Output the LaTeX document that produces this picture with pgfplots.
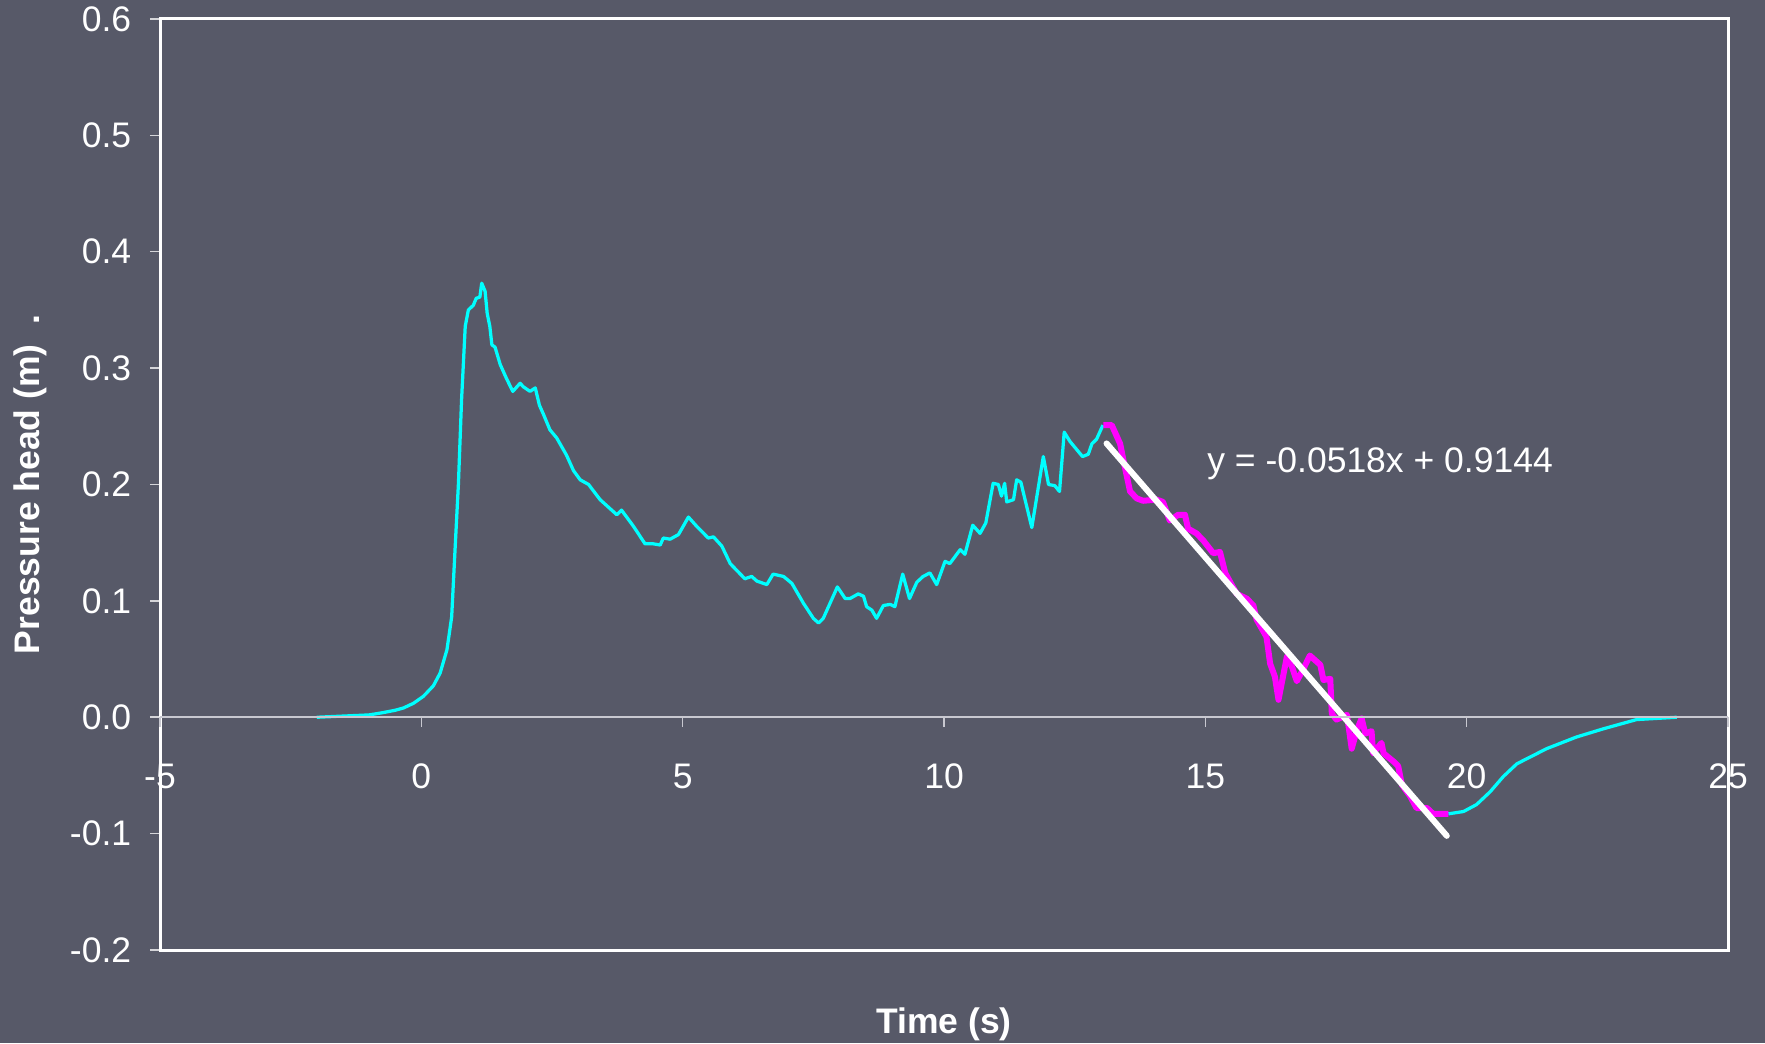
\documentclass[border=0pt]{standalone}
\usepackage{pgfplots}
\pgfplotsset{compat=1.18}
\usepackage{fontspec}
\setmainfont{Liberation Sans}
\definecolor{bg}{RGB}{87,89,104}
\definecolor{zline}{RGB}{200,200,208}
\definecolor{cy}{RGB}{0,255,255}
\definecolor{mg}{RGB}{255,0,255}
\newcommand{\fs}{\fontsize{14.2}{17}\selectfont}
\begin{document}
\begin{tikzpicture}
\useasboundingbox[fill=bg] (-64pt,-37.2pt) rectangle (642pt,380pt);
\begin{axis}[
  scale only axis, width=627.2pt, height=372.4pt,
  xmin=-5, xmax=25, ymin=-0.2, ymax=0.6,
  xtick=\empty,
  ytick={-0.2,-0.1,0,0.1,0.2,0.3,0.4,0.5,0.6},
  ytick pos=left,
  tick align=outside, major tick length=4pt,
  axis line style={white, line width=1.2pt},
  ytick style={white!75!bg, line width=0.6pt},
  yticklabel style={font=\fs, text=white, xshift=-4pt, /pgf/number format/.cd, fixed, fixed zerofill, precision=1, assume math mode=true},
  ylabel={Pressure head (m)\ \ .},
  xlabel={Time (s)},
  every axis y label/.style={at={(axis description cs:0,0.5)}, xshift=-52pt, rotate=90, anchor=center, font=\fs\bfseries, text=white},
  every axis x label/.style={at={(axis description cs:0.5,0)}, yshift=-29.8pt, anchor=center, font=\fs\bfseries, text=white},
  clip=false,
]
\addplot[cy, line width=1.3pt, line join=round] coordinates {
(-2.0,0.000) (-1.5,0.001) (-1.0,0.002) (-0.73,0.004) (-0.5,0.006) (-0.34,0.008) (-0.15,0.012) (0.04,0.018) (0.23,0.027) (0.36,0.038) (0.49,0.058) (0.58,0.086) (0.645,0.144) (0.71,0.201) (0.77,0.273) (0.84,0.336) (0.90,0.350) (0.995,0.354) (1.05,0.360) (1.12,0.361) (1.155,0.373) (1.22,0.366) (1.26,0.347) (1.31,0.336) (1.35,0.320) (1.41,0.318) (1.51,0.303) (1.63,0.291) (1.75,0.280) (1.89,0.287) (1.95,0.284) (2.08,0.280) (2.18,0.283) (2.26,0.268) (2.33,0.261) (2.46,0.247) (2.59,0.240) (2.78,0.225) (2.91,0.212) (3.04,0.204) (3.20,0.200) (3.42,0.187) (3.74,0.174) (3.83,0.178) (4.06,0.164) (4.28,0.149) (4.44,0.149) (4.57,0.148) (4.63,0.154) (4.76,0.153) (4.92,0.157) (5.11,0.172) (5.27,0.164) (5.49,0.154) (5.59,0.155) (5.75,0.147) (5.91,0.132) (6.19,0.119) (6.32,0.121) (6.42,0.117) (6.61,0.114) (6.73,0.123) (6.93,0.121) (7.09,0.115) (7.31,0.098) (7.50,0.085) (7.60,0.081) (7.69,0.085) (7.96,0.112) (8.11,0.102) (8.20,0.102) (8.36,0.106) (8.46,0.104) (8.52,0.095) (8.62,0.092) (8.71,0.085) (8.84,0.096) (8.97,0.097) (9.06,0.095) (9.21,0.123) (9.34,0.102) (9.48,0.116) (9.60,0.121) (9.73,0.124) (9.86,0.114) (10.02,0.134) (10.11,0.132) (10.31,0.144) (10.40,0.140) (10.55,0.165) (10.69,0.158) (10.80,0.167) (10.94,0.201) (11.04,0.200) (11.10,0.190) (11.16,0.201) (11.20,0.185) (11.33,0.187) (11.39,0.204) (11.47,0.202) (11.68,0.163) (11.90,0.224) (12.00,0.200) (12.12,0.199) (12.21,0.194) (12.30,0.245) (12.41,0.237) (12.65,0.224) (12.76,0.226) (12.83,0.235) (12.92,0.239) (13.04,0.251)
};
\addplot[cy, line width=1.3pt, line join=round] coordinates {
(19.65,-0.083) (19.94,-0.081) (20.19,-0.075) (20.45,-0.064) (20.70,-0.051) (20.96,-0.040) (21.53,-0.027) (22.10,-0.017) (22.61,-0.010) (23.25,-0.002) (24.02,0.000)
};
\addplot[mg, line width=2.4pt, line join=round] coordinates {
(13.05,0.251) (13.21,0.251) (13.37,0.235) (13.46,0.215) (13.56,0.194) (13.69,0.188) (13.81,0.186) (14.07,0.187) (14.19,0.185) (14.32,0.169) (14.48,0.174) (14.61,0.174) (14.67,0.162) (14.83,0.158) (14.96,0.152) (15.15,0.141) (15.28,0.142) (15.38,0.124) (15.60,0.106) (15.79,0.102) (15.92,0.096) (15.98,0.084) (16.17,0.069) (16.24,0.046) (16.33,0.035) (16.40,0.015) (16.56,0.052) (16.66,0.043) (16.75,0.031) (16.88,0.042) (17.00,0.053) (17.20,0.045) (17.26,0.032) (17.39,0.033) (17.42,0.003) (17.51,-0.002) (17.71,0.002) (17.80,-0.027) (17.90,-0.011) (17.99,-0.001) (18.06,-0.014) (18.18,-0.012) (18.21,-0.031) (18.37,-0.022) (18.41,-0.031) (18.60,-0.038) (18.69,-0.042) (18.76,-0.058) (18.92,-0.068) (19.04,-0.078) (19.24,-0.078) (19.36,-0.083) (19.65,-0.083)
};
\addplot[white, line width=2.4pt, line cap=round] coordinates {(13.11,0.2353) (19.62,-0.1019)};
\node[anchor=west, text=white, font=\fs, inner sep=0pt] at (axis cs:15.03,0.218) {y = -0.0518x + 0.9144};
\end{axis}
\begin{axis}[
  scale only axis, width=627.2pt, height=372.4pt,
  xmin=-5, xmax=25, ymin=-0.2, ymax=0.6,
  axis x line*=middle, axis y line=none,
  xtick={-5,0,5,10,15,20,25},
  tick align=outside, major tick length=4pt,
  x axis line style={zline, line width=0.8pt},
  xtick style={zline, line width=0.6pt},
  xticklabel style={font=\fs, text=white, anchor=base, yshift=-24.5pt, /pgf/number format/assume math mode=true},
]
\end{axis}
\end{tikzpicture}
\end{document}
